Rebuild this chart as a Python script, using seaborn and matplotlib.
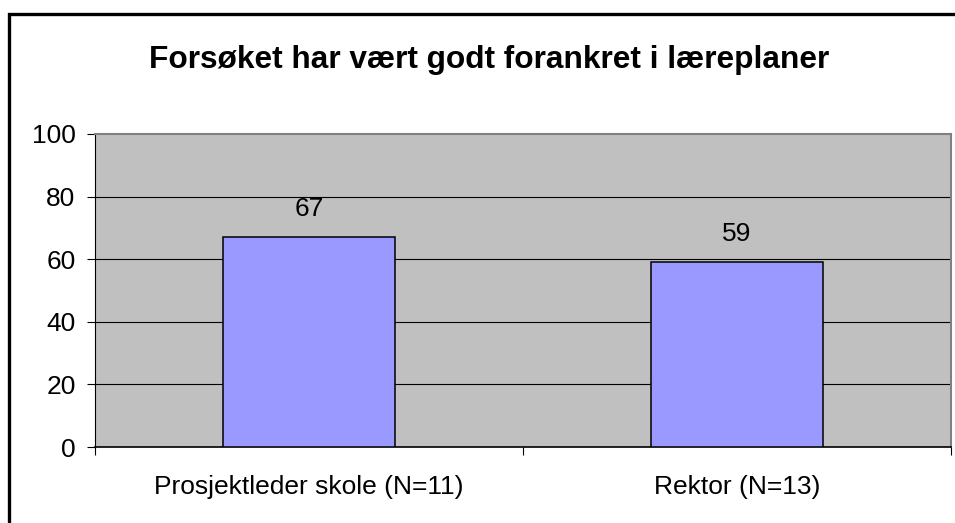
import matplotlib
matplotlib.use("Agg")
from matplotlib import pyplot as plt
from matplotlib.patches import Rectangle
from matplotlib.ticker import FixedLocator
import seaborn as sns
import pandas as pd

# data
categories = ["Prosjektleder skole (N=11)", "Rektor (N=13)"]
values = [67, 59]
title = "Forsøket har vært godt forankret i læreplaner"
yticks = [0, 20, 40, 60, 80, 100]

plt.rcParams['font.family'] = ['Liberation Sans', 'DejaVu Sans']

df = pd.DataFrame({"group": categories, "value": values})

fig = plt.figure(figsize=(9.55, 5.23), dpi=100)
ax = fig.add_axes([0.0995, 0.1453, 0.8963, 0.5985])
ax.set_facecolor("#C0C0C0")

sns.barplot(data=df, x="group", y="value", ax=ax, color="#9999FF",
            width=0.4, edgecolor="black", linewidth=1.1, saturation=1,
            zorder=3)

ax.set_ylim(0, 100)
ax.set_xlim(-0.5, len(categories) - 0.5)
ax.set_yticks(yticks)
for y in yticks[1:-1]:
    ax.axhline(y, color="black", linewidth=0.8, zorder=1)

ax.bar_label(ax.containers[0], labels=[str(v) for v in values],
             padding=12, fontsize=19)

ax.set_xlabel("")
ax.set_ylabel("")
ax.tick_params(axis="y", labelsize=19, length=6, width=0.8, pad=8)
ax.tick_params(axis="x", which="major", labelsize=19, length=0, pad=20)
ax.xaxis.set_minor_locator(FixedLocator([-0.5, 0.5, 1.5]))
ax.tick_params(axis="x", which="minor", length=6, width=0.8)

ax.spines["left"].set_color("black")
ax.spines["bottom"].set_color("black")
ax.spines["bottom"].set_linewidth(1.2)
ax.spines["top"].set_color("#808080")
ax.spines["right"].set_color("#808080")
ax.spines["top"].set_linewidth(1.5)
ax.spines["right"].set_linewidth(1.5)

fig.text(0.512, 0.886, title, ha="center", va="center",
         fontsize=22.8, fontweight="bold")

# chart-area border (cut off on the right and bottom like the reference)
fig.patches.append(Rectangle((9 / 955, -0.1), 1.2, 1.1 - 14.5 / 523,
                             transform=fig.transFigure, fill=False,
                             edgecolor="black", linewidth=2.4))

fig.savefig("out.png", dpi=100)
